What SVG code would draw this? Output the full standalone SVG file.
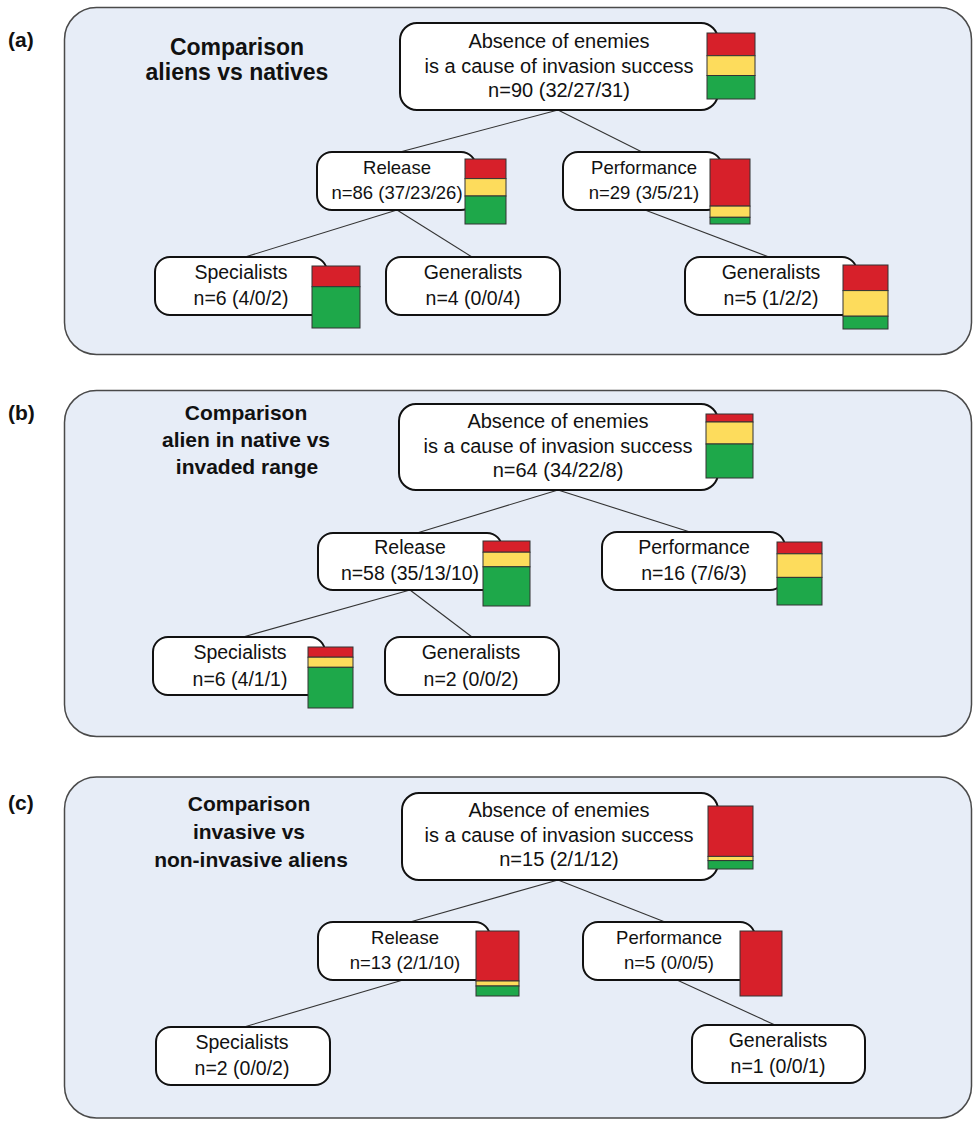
<svg xmlns="http://www.w3.org/2000/svg" width="974" height="1121" viewBox="0 0 974 1121">
  <style>
    .panel { fill: #e7edf7; stroke: #4a4a4a; stroke-width: 1.5; }
    .node { fill: #ffffff; stroke: #111111; stroke-width: 2; }
    .lbl { font-family: "Liberation Sans", Arial, sans-serif; font-weight: bold; font-size: 21px; fill: #111; }
    .ttl { font-family: "Liberation Sans", Arial, sans-serif; font-weight: bold; fill: #111; text-anchor: middle; }
    .t { font-family: "Liberation Sans", Arial, sans-serif; fill: #111; text-anchor: middle; }
    .top { font-size: 20px; }
    .mid { font-size: 18.5px; }
    .leaf { font-size: 19.5px; }
    .r { fill: #d7202a; stroke: #333; stroke-width: 1; }
    .y { fill: #fddc5c; stroke: #333; stroke-width: 1; }
    .g { fill: #1ea84a; stroke: #333; stroke-width: 1; }
    .conn line { stroke: #333; stroke-width: 1.1; }
  </style>

  <!-- panel backgrounds -->
  <rect class="panel" x="64.5" y="7.5" width="907" height="347" rx="32"/>
  <rect class="panel" x="64.5" y="390.5" width="907" height="346" rx="32"/>
  <rect class="panel" x="64.5" y="777" width="907" height="341" rx="32"/>

  <!-- panel letters -->
  <text class="lbl" x="8" y="47">(a)</text>
  <text class="lbl" x="8" y="420">(b)</text>
  <text class="lbl" x="8" y="810">(c)</text>

  <!-- panel titles -->
  <g id="title-a">
    <text class="ttl" font-size="23" x="237" y="55">Comparison</text>
    <text class="ttl" font-size="23" x="237" y="80">aliens vs natives</text>
  </g>
  <g id="title-b">
    <text class="ttl" font-size="21" x="246" y="420">Comparison</text>
    <text class="ttl" font-size="21" x="246" y="447">alien in native vs</text>
    <text class="ttl" font-size="21" x="247" y="474">invaded range</text>
  </g>
  <g id="title-c">
    <text class="ttl" font-size="21" x="249" y="811">Comparison</text>
    <text class="ttl" font-size="21" x="249" y="839">invasive vs</text>
    <text class="ttl" font-size="21" x="251" y="867">non-invasive aliens</text>
  </g>

  <!-- connectors -->
  <g id="connectors" class="conn">
    <line x1="558" y1="110" x2="400" y2="152"/>
    <line x1="558" y1="110" x2="642" y2="152"/>
    <line x1="397" y1="210" x2="245" y2="257"/>
    <line x1="397" y1="210" x2="472" y2="257"/>
    <line x1="645" y1="210" x2="769" y2="257"/>

    <line x1="558" y1="490" x2="417" y2="533"/>
    <line x1="558" y1="490" x2="690" y2="532"/>
    <line x1="410" y1="590" x2="243" y2="637"/>
    <line x1="410" y1="590" x2="472" y2="637"/>

    <line x1="558" y1="880" x2="410" y2="922"/>
    <line x1="558" y1="880" x2="665" y2="922"/>
    <line x1="403" y1="980" x2="244" y2="1027"/>
    <line x1="677" y1="980" x2="775" y2="1025"/>
  </g>

  <!-- panel (a) nodes -->
  <g id="a-root">
    <rect class="node" x="400" y="23" width="318" height="87" rx="17"/>
    <text class="t top" x="559" y="48">Absence of enemies</text>
    <text class="t top" x="559" y="73">is a cause of invasion success</text>
    <text class="t top" x="559" y="97">n=90 (32/27/31)</text>
    <rect class="r" x="707" y="33" width="48" height="22.7"/>
    <rect class="y" x="707" y="55.7" width="48" height="19.8"/>
    <rect class="g" x="707" y="75.5" width="48" height="23.5"/>
  </g>
  <g id="a-release">
    <rect class="node" x="317" y="152" width="159" height="58" rx="15"/>
    <text class="t mid" x="397" y="174">Release</text>
    <text class="t mid" x="397" y="199">n=86 (37/23/26)</text>
    <rect class="r" x="465" y="159" width="41" height="19.6"/>
    <rect class="y" x="465" y="178.6" width="41" height="17.4"/>
    <rect class="g" x="465" y="196" width="41" height="28"/>
  </g>
  <g id="a-performance">
    <rect class="node" x="563" y="152" width="159" height="58" rx="15"/>
    <text class="t mid" x="644" y="174">Performance</text>
    <text class="t mid" x="644" y="199">n=29 (3/5/21)</text>
    <rect class="r" x="710" y="159" width="40" height="47.1"/>
    <rect class="y" x="710" y="206.1" width="40" height="11.2"/>
    <rect class="g" x="710" y="217.3" width="40" height="6.7"/>
  </g>
  <g id="a-specialists">
    <rect class="node" x="155" y="257" width="172" height="58" rx="15"/>
    <text class="t leaf" x="241" y="279">Specialists</text>
    <text class="t leaf" x="241" y="305">n=6 (4/0/2)</text>
    <rect class="r" x="312" y="266" width="48" height="20.7"/>
    <rect class="g" x="312" y="286.7" width="48" height="41.3"/>
  </g>
  <g id="a-generalists-release">
    <rect class="node" x="386" y="257" width="174" height="58" rx="15"/>
    <text class="t leaf" x="473" y="279">Generalists</text>
    <text class="t leaf" x="473" y="305">n=4 (0/0/4)</text>
  </g>
  <g id="a-generalists-performance">
    <rect class="node" x="685" y="257" width="172" height="58" rx="15"/>
    <text class="t leaf" x="771" y="279">Generalists</text>
    <text class="t leaf" x="771" y="305">n=5 (1/2/2)</text>
    <rect class="r" x="843" y="265" width="45" height="25.6"/>
    <rect class="y" x="843" y="290.6" width="45" height="25.6"/>
    <rect class="g" x="843" y="316.2" width="45" height="12.8"/>
  </g>

  <!-- panel (b) nodes -->
  <g id="b-root">
    <rect class="node" x="399" y="404" width="319" height="86" rx="17"/>
    <text class="t top" x="558" y="428">Absence of enemies</text>
    <text class="t top" x="558" y="453">is a cause of invasion success</text>
    <text class="t top" x="558" y="477">n=64 (34/22/8)</text>
    <rect class="r" x="706" y="414" width="47" height="8"/>
    <rect class="y" x="706" y="422" width="47" height="22"/>
    <rect class="g" x="706" y="444" width="47" height="34"/>
  </g>
  <g id="b-release">
    <rect class="node" x="318" y="533" width="184" height="57" rx="15"/>
    <text class="t leaf" x="410" y="554">Release</text>
    <text class="t leaf" x="410" y="580">n=58 (35/13/10)</text>
    <rect class="r" x="483" y="541" width="47" height="11.2"/>
    <rect class="y" x="483" y="552.2" width="47" height="14.6"/>
    <rect class="g" x="483" y="566.8" width="47" height="39.2"/>
  </g>
  <g id="b-performance">
    <rect class="node" x="602" y="532" width="183" height="58" rx="15"/>
    <text class="t leaf" x="694" y="554">Performance</text>
    <text class="t leaf" x="694" y="580">n=16 (7/6/3)</text>
    <rect class="r" x="777" y="542" width="45" height="11.8"/>
    <rect class="y" x="777" y="553.8" width="45" height="23.6"/>
    <rect class="g" x="777" y="577.4" width="45" height="27.6"/>
  </g>
  <g id="b-specialists">
    <rect class="node" x="153" y="637" width="172" height="58" rx="15"/>
    <text class="t leaf" x="240" y="659">Specialists</text>
    <text class="t leaf" x="240" y="686">n=6 (4/1/1)</text>
    <rect class="r" x="308" y="647" width="45" height="10.2"/>
    <rect class="y" x="308" y="657.2" width="45" height="10.1"/>
    <rect class="g" x="308" y="667.3" width="45" height="40.7"/>
  </g>
  <g id="b-generalists">
    <rect class="node" x="385" y="637" width="174" height="58" rx="15"/>
    <text class="t leaf" x="471" y="659">Generalists</text>
    <text class="t leaf" x="471" y="686">n=2 (0/0/2)</text>
  </g>

  <!-- panel (c) nodes -->
  <g id="c-root">
    <rect class="node" x="402" y="793" width="316" height="87" rx="17"/>
    <text class="t top" x="559" y="817">Absence of enemies</text>
    <text class="t top" x="559" y="842">is a cause of invasion success</text>
    <text class="t top" x="559" y="866">n=15 (2/1/12)</text>
    <rect class="r" x="708" y="806" width="45" height="50.4"/>
    <rect class="y" x="708" y="856.4" width="45" height="4.2"/>
    <rect class="g" x="708" y="860.6" width="45" height="8.4"/>
  </g>
  <g id="c-release">
    <rect class="node" x="318" y="922" width="172" height="58" rx="15"/>
    <text class="t mid" x="405" y="944">Release</text>
    <text class="t mid" x="405" y="969">n=13 (2/1/10)</text>
    <rect class="r" x="476" y="931" width="43" height="50"/>
    <rect class="y" x="476" y="981" width="43" height="5"/>
    <rect class="g" x="476" y="986" width="43" height="10"/>
  </g>
  <g id="c-performance">
    <rect class="node" x="583" y="922" width="172" height="58" rx="15"/>
    <text class="t mid" x="669" y="944">Performance</text>
    <text class="t mid" x="669" y="969">n=5 (0/0/5)</text>
    <rect class="r" x="740" y="931" width="42" height="65"/>
  </g>
  <g id="c-specialists">
    <rect class="node" x="156" y="1027" width="174" height="58" rx="15"/>
    <text class="t leaf" x="242" y="1049">Specialists</text>
    <text class="t leaf" x="242" y="1075">n=2 (0/0/2)</text>
  </g>
  <g id="c-generalists">
    <rect class="node" x="692" y="1025" width="173" height="58" rx="15"/>
    <text class="t leaf" x="778" y="1047">Generalists</text>
    <text class="t leaf" x="778" y="1073">n=1 (0/0/1)</text>
  </g>
</svg>
